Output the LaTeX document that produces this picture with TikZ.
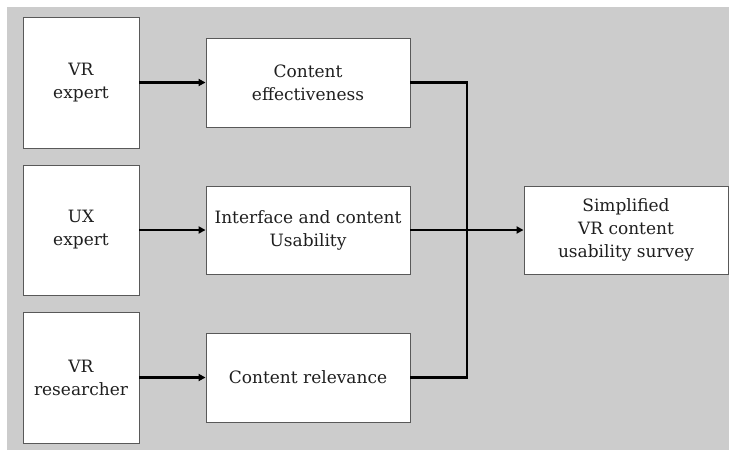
\documentclass[tikz,border=0pt]{standalone}
\usepackage{fontspec}
\setmainfont{DejaVu Serif}
\usetikzlibrary{arrows.meta}
\begin{document}
\begin{tikzpicture}[x=1pt,y=-1pt,
  box/.style={draw=black!65,line width=0.9pt,fill=white,inner sep=0pt,align=center,
    font=\fontsize{17}{23}\selectfont,text=black!88},
  conn/.style={line width=2.2pt,black},
  arr/.style={conn,-{Triangle[length=7pt,width=7pt]}}]
\useasboundingbox (0,0) rectangle (729,450);
\fill[white] (0,0) rectangle (729,450);
\fill[black!20] (7,7) rectangle (729,450);
% left column
\node[box,minimum width=116pt,minimum height=131pt] (vre) at (81,82.5) {VR\\expert};
\node[box,minimum width=116pt,minimum height=130pt] (uxe) at (81,230) {UX\\expert};
\node[box,minimum width=116pt,minimum height=131pt] (vrr) at (81,377.5) {VR\\researcher};
% middle column
\node[box,minimum width=204pt,minimum height=89pt] (ce) at (308,82.5) {Content\\effectiveness};
\node[box,minimum width=204pt,minimum height=88pt] (iu) at (308,230) {Interface and content\\Usability};
\node[box,minimum width=204pt,minimum height=89pt] (cr) at (308,377.5) {Content relevance};
% right
\node[box,minimum width=204pt,minimum height=88pt] (sv) at (626,230) {Simplified\\VR content\\usability survey};
\coordinate (j) at (467,230);
% connectors
\draw[arr] (vre) -- (ce);
\draw[arr] (uxe) -- (iu);
\draw[arr] (vrr) -- (cr);
\draw[conn] (ce.east) -| (j);
\draw[conn] (cr.east) -| (j);
\draw[arr] (iu) -- (sv);
\end{tikzpicture}
\end{document}
